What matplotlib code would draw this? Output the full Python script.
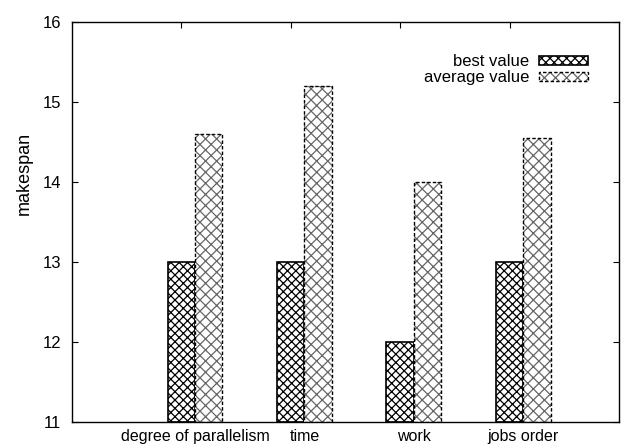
import matplotlib.pyplot as plt
import numpy as np
from matplotlib.patches import Patch
from matplotlib.legend_handler import HandlerTuple

plt.rcParams['font.family'] = ['Liberation Sans', 'DejaVu Sans']
plt.rcParams['hatch.linewidth'] = 0.9

categories = ['degree of parallelism', 'time', 'work', 'jobs order']
best_value = [13, 13, 12, 13]
average_value = [14.6, 15.2, 14.0, 14.55]

x = np.arange(len(categories))
w = 0.25
dash = (0, (2.5, 1.5))

fig = plt.figure(figsize=(6.22, 4.46), dpi=100)
ax = fig.add_axes([0.1158, 0.0538, 0.995 - 0.1158, 0.9507 - 0.0538])

ax.bar(x, np.array(best_value) - 11, w, bottom=11, color='white',
       edgecolor='black', hatch='xxxx', linewidth=1.2)
# average bars: grey hatch underneath, dashed outline on top
ax.bar(x + w, np.array(average_value) - 11, w, bottom=11, color='white',
       edgecolor='#666666', hatch='xxx', linewidth=0)
ax.bar(x + w, np.array(average_value) - 11, w, bottom=11, fill=False,
       edgecolor='black', linestyle=dash, linewidth=1.0)

# legend patches
h_best = Patch(facecolor='white', edgecolor='black', hatch='xxxx', linewidth=1.2)
h_avg = (Patch(facecolor='white', edgecolor='#666666', hatch='xxx', linewidth=0),
         Patch(fill=False, edgecolor='black', linestyle=dash, linewidth=1.0))
ax.legend([h_best, h_avg], ['best value', 'average value'],
          handler_map={tuple: HandlerTuple(ndivide=1, pad=0)},
          loc='upper right', bbox_to_anchor=(0.958, 0.94), frameon=False,
          markerfirst=False, fontsize=12, handlelength=2.9, handleheight=0.45,
          handletextpad=0.6, labelspacing=0.05, borderpad=0)

ax.set_xlim(-1, 4)
ax.set_ylim(11, 16)
ax.set_yticks([11, 12, 13, 14, 15, 16])
ax.tick_params(axis='y', direction='in', length=4, right=True, labelsize=12, pad=8)

ax.set_xticks(x)
ax.set_xticklabels([])
ax.tick_params(axis='x', which='major', direction='in', length=4,
               top=True, bottom=False)
# category names sit under the middle of each pair of bars
ax.set_xticks(x + w / 2, categories, minor=True)
ax.tick_params(axis='x', which='minor', length=0, labelsize=11.5, pad=5)

ax.set_ylabel('makespan', fontsize=13)
ax.yaxis.set_label_coords(-0.072, 0.6225)

for s in ax.spines.values():
    s.set_linewidth(1.0)

fig.savefig('out.png', dpi=100)
